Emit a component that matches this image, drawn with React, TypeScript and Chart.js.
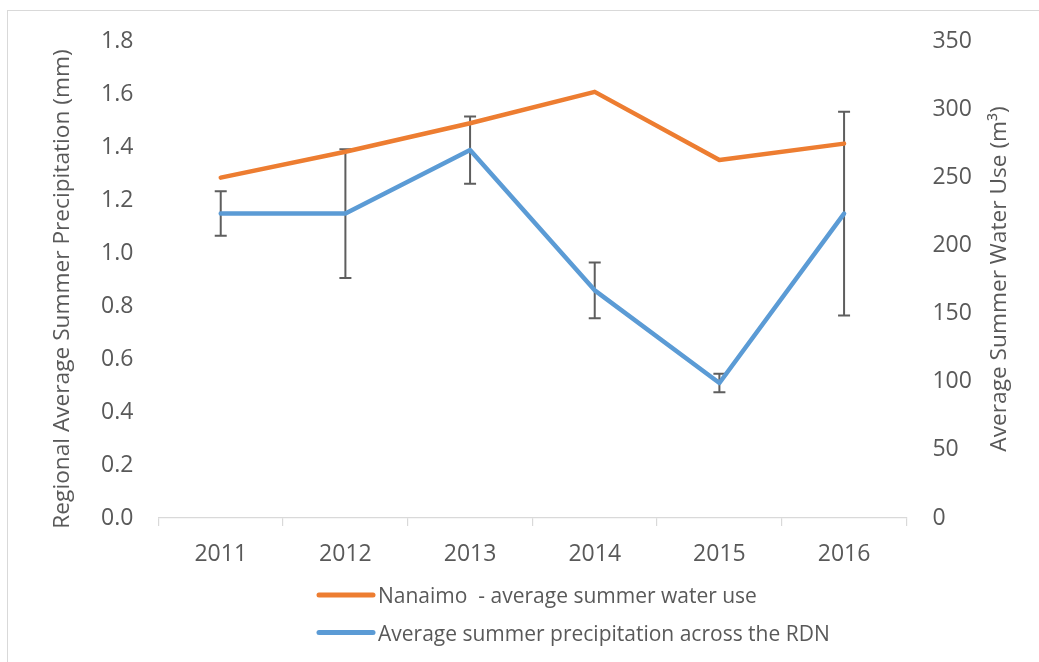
import React, { useEffect, useRef } from "react";
import { Chart, registerables } from "chart.js";

Chart.register(...registerables);

const years = ["2011", "2012", "2013", "2014", "2015", "2016"];
const waterUse = [250, 269, 290, 313, 263, 275];
const precipitation = [1.15, 1.15, 1.39, 0.86, 0.51, 1.15];
const precipError = [0.084, 0.243, 0.127, 0.105, 0.035, 0.385];
const waterLabel = "Nanaimo  - average summer water use";
const precipLabel = "Average summer precipitation across the RDN";
const leftTitle = "Regional Average Summer Precipitation (mm)";
const rightTitle = "Average Summer Water Use (m³)";

const FONT = "'Open Sans', 'DejaVu Sans', sans-serif";
const TEXT = "#595959";

const errorBarPlugin = {
  id: "errorBars",
  beforeDatasetsDraw(chart: any) {
    const ctx = chart.ctx;
    const xs = chart.scales.x;
    const ys = chart.scales.y;
    ctx.save();
    ctx.strokeStyle = "#5E5E5E";
    ctx.lineWidth = 2;
    precipitation.forEach((v, i) => {
      const x = xs.getPixelForValue(i);
      const yt = ys.getPixelForValue(v + precipError[i]);
      const yb = ys.getPixelForValue(v - precipError[i]);
      ctx.beginPath();
      ctx.moveTo(x, yt);
      ctx.lineTo(x, yb);
      ctx.moveTo(x - 6, yt);
      ctx.lineTo(x + 6, yt);
      ctx.moveTo(x - 6, yb);
      ctx.lineTo(x + 6, yb);
      ctx.stroke();
    });
    ctx.restore();
  },
};

const titlesPlugin = {
  id: "axisTitles",
  afterDraw(chart: any) {
    const ctx = chart.ctx;
    ctx.save();
    ctx.fillStyle = TEXT;
    ctx.font = `22.7px ${FONT}`;
    ctx.textAlign = "center";
    ctx.textBaseline = "alphabetic";
    ctx.translate(69, 289);
    ctx.rotate(-Math.PI / 2);
    ctx.fillText(leftTitle, 0, 0);
    ctx.restore();

    ctx.save();
    ctx.fillStyle = TEXT;
    ctx.font = `22.7px ${FONT}`;
    ctx.textAlign = "center";
    ctx.textBaseline = "alphabetic";
    ctx.translate(1006, 279);
    ctx.rotate(-Math.PI / 2);
    ctx.fillText(rightTitle, 0, 0);
    ctx.restore();
  },
};

const legendPlugin = {
  id: "stackedLegend",
  afterDraw(chart: any) {
    const ctx = chart.ctx;
    const x0 = 319;
    const x1 = 373;
    const rows = [595, 632.5];
    chart.data.datasets.forEach((ds: any, i: number) => {
      const y = rows[i];
      ctx.save();
      ctx.strokeStyle = ds.borderColor;
      ctx.lineWidth = 5;
      ctx.lineCap = "round";
      ctx.beginPath();
      ctx.moveTo(x0, y);
      ctx.lineTo(x1, y);
      ctx.stroke();
      ctx.fillStyle = TEXT;
      ctx.font = `21px ${FONT}`;
      ctx.textAlign = "left";
      ctx.textBaseline = "alphabetic";
      ctx.fillText(ds.label, 378, y + 8);
      ctx.restore();
    });
  },
};

export default function App() {
  const ref = useRef<HTMLCanvasElement>(null);

  useEffect(() => {
    const canvas = ref.current;
    if (!canvas) return;
    Chart.defaults.font.family = FONT;
    const chart = new Chart(canvas, {
      type: "line",
      data: {
        labels: years,
        datasets: [
          {
            label: waterLabel,
            data: waterUse,
            yAxisID: "y1",
            borderColor: "#ED7D31",
            backgroundColor: "#ED7D31",
            borderWidth: 4.5,
            pointRadius: 0,
            pointHoverRadius: 0,
            borderCapStyle: "round",
            borderJoinStyle: "round",
            tension: 0,
            fill: false,
          },
          {
            label: precipLabel,
            data: precipitation,
            yAxisID: "y",
            borderColor: "#5B9BD5",
            backgroundColor: "#5B9BD5",
            borderWidth: 4.5,
            pointRadius: 0,
            pointHoverRadius: 0,
            borderCapStyle: "round",
            borderJoinStyle: "round",
            tension: 0,
            fill: false,
          },
        ],
      },
      options: {
        responsive: false,
        animation: false,
        events: [],
        layout: { padding: { left: 0, right: 0, top: 41.5, bottom: 94 } },
        plugins: {
          legend: { display: false },
          tooltip: { enabled: false },
          title: { display: false },
        },
        scales: {
          x: {
            type: "category",
            offset: true,
            grid: {
              display: true,
              drawOnChartArea: false,
              drawTicks: true,
              tickLength: 8,
              color: "#D9D9D9",
              lineWidth: 1.2,
              offset: true,
            },
            border: { display: true, color: "#D9D9D9", width: 1.2 },
            ticks: {
              color: TEXT,
              font: { size: 23, family: FONT },
              padding: 15,
              maxRotation: 0,
              autoSkip: false,
            },
            afterFit: (s: any) => {
              s.height = 50;
            },
          },
          y: {
            type: "linear",
            position: "left",
            min: 0,
            max: 1.8,
            ticks: {
              stepSize: 0.2,
              color: TEXT,
              font: { size: 23, family: FONT },
              padding: 25,
              callback: (v: any) => Number(v).toFixed(1),
            },
            grid: { display: false, drawTicks: false },
            border: { display: false },
            afterFit: (s: any) => {
              s.width = 158.4;
            },
          },
          y1: {
            type: "linear",
            position: "right",
            min: 0,
            max: 350,
            ticks: {
              stepSize: 50,
              color: TEXT,
              font: { size: 23, family: FONT },
              padding: 26,
            },
            grid: { display: false, drawTicks: false },
            border: { display: false },
            afterFit: (s: any) => {
              s.width = 132.6;
            },
          },
        },
      },
      plugins: [errorBarPlugin, titlesPlugin, legendPlugin],
    } as any);
    return () => chart.destroy();
  }, []);

  return (
    <div style={{ position: "fixed", left: 0, top: 0, width: 1039, height: 662, overflow: "hidden", background: "#fff" }}>
      <div
        style={{
          position: "absolute",
          left: 7,
          top: 10,
          width: 1100,
          height: 720,
          border: "1px solid #D9D9D9",
          pointerEvents: "none",
        }}
      />
      <canvas
        ref={ref}
        width={1039}
        height={662}
        style={{ position: "absolute", left: 0, top: 0, width: 1039, height: 662 }}
      />
    </div>
  );
}
